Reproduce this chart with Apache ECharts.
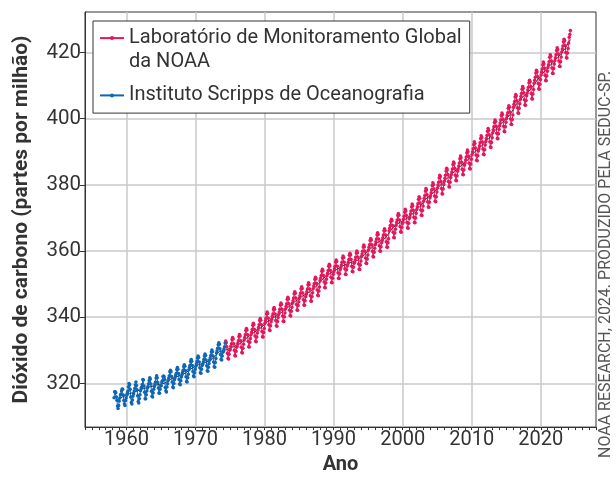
<!DOCTYPE html>
<html>
<head>
<meta charset="utf-8">
<script src="https://cdn.jsdelivr.net/npm/echarts@6/dist/echarts.min.js"></script>
<style>
  html, body { margin: 0; padding: 0; background: #fff; }
  #main { width: 616px; height: 480px; }
</style>
</head>
<body>
<div id="main"></div>
<script>
// médias mensais de CO2 (ppm), Instituto Scripps: mar/1958 .. abr/1974
const scrippsStart = 1958 + 2 / 12
const scrippsCO2 = [
  315.7, 317.5, 317.5, 317.2, 315.9, 314.9, 313.2, 312.4, 313.3, 314.7, // 1958
  315.6, 316.5, 316.7, 317.7, 318.3, 318.2, 316.5, 314.8, 313.8, 313.3, 314.8, 315.6, // 1959
  316.4, 317.0, 317.6, 319.0, 320.0, 319.6, 318.2, 315.9, 314.2, 313.8, 315.0, 316.2, // 1960
  316.9, 317.7, 318.5, 319.5, 320.4, 319.4, 318.1, 316.3, 314.5, 314.1, 315.4, 316.6, // 1961
  317.8, 318.6, 318.9, 319.7, 321.2, 321.0, 319.2, 317.3, 315.4, 315.4, 316.6, 317.7, // 1962
  318.6, 319.1, 319.9, 320.9, 321.7, 321.3, 319.8, 317.6, 316.1, 315.9, 317.1, 318.2, // 1963
  319.1, 319.8, 320.4, 321.6, 322.3, 321.7, 320.3, 318.6, 317.1, 317.0, 318.2, 319.3, // 1964
  319.3, 320.4, 320.8, 322.1, 322.2, 322.0, 321.2, 318.8, 317.8, 317.4, 318.9, 319.9, // 1965
  320.9, 321.6, 322.3, 323.5, 324.0, 323.5, 322.1, 320.4, 318.9, 318.7, 320.0, 321.1, // 1966
  321.7, 322.4, 323.0, 324.2, 324.8, 324.3, 323.0, 321.2, 319.8, 319.6, 320.8, 321.9, // 1967
  322.6, 323.3, 324.0, 325.1, 325.6, 325.2, 323.9, 322.0, 320.6, 320.4, 321.7, 322.8, // 1968
  324.1, 324.8, 325.5, 326.6, 327.2, 326.7, 325.4, 323.6, 322.2, 322.0, 323.2, 324.3, // 1969
  325.2, 325.9, 326.6, 327.7, 328.3, 327.8, 326.5, 324.7, 323.2, 323.1, 324.3, 325.4, // 1970
  325.8, 326.5, 327.2, 328.3, 328.9, 328.4, 327.1, 325.3, 323.8, 323.7, 324.9, 326.0, // 1971
  327.0, 327.7, 328.4, 329.5, 330.1, 329.6, 328.3, 326.5, 325.0, 324.9, 326.3, 327.5, // 1972
  329.2, 329.9, 330.6, 331.7, 332.3, 331.8, 330.5, 328.7, 327.2, 327.1, 328.3, 329.4, // 1973
  329.7, 330.4, 331.1, 332.2 // 1974
]

// médias mensais de CO2 (ppm), NOAA: mai/1974 .. abr/2024
const noaaStart = 1974 + 4 / 12
const noaaCO2 = [
  332.8, 332.3, 331.1, 329.1, 327.5, 327.4, 328.8, 330.0, // 1974
  330.4, 331.2, 332.0, 333.3, 333.9, 333.4, 332.0, 330.0, 328.4, 328.3, 329.7, 330.9, // 1975
  331.3, 332.1, 332.9, 334.2, 334.8, 334.3, 332.9, 330.9, 329.3, 329.2, 330.6, 331.8, // 1976
  333.1, 333.9, 334.7, 336.0, 336.6, 336.1, 334.7, 332.7, 331.1, 331.0, 332.4, 333.6, // 1977
  334.7, 335.5, 336.3, 337.6, 338.2, 337.7, 336.3, 334.3, 332.7, 332.6, 334.0, 335.2, // 1978
  336.1, 336.9, 337.7, 339.0, 339.6, 339.1, 337.7, 335.7, 334.1, 334.0, 335.4, 336.6, // 1979
  338.1, 338.9, 339.7, 341.0, 341.6, 341.1, 339.7, 337.7, 336.1, 336.0, 337.4, 338.6, // 1980
  339.4, 340.2, 341.0, 342.3, 342.9, 342.4, 341.0, 339.0, 337.4, 337.3, 338.7, 339.9, // 1981
  340.8, 341.6, 342.4, 343.7, 344.3, 343.8, 342.4, 340.4, 338.8, 338.7, 340.1, 341.3, // 1982
  342.5, 343.3, 344.1, 345.4, 346.0, 345.5, 344.1, 342.1, 340.5, 340.4, 341.8, 343.0, // 1983
  344.2, 345.0, 345.8, 347.1, 347.7, 347.2, 345.8, 343.8, 342.2, 342.1, 343.5, 344.7, // 1984
  345.7, 346.5, 347.3, 348.6, 349.2, 348.7, 347.3, 345.3, 343.7, 343.6, 345.0, 346.2, // 1985
  346.9, 347.7, 348.5, 349.8, 350.4, 349.9, 348.5, 346.5, 344.9, 344.8, 346.2, 347.4, // 1986
  348.6, 349.4, 350.2, 351.5, 352.1, 351.6, 350.2, 348.2, 346.6, 346.5, 347.9, 349.1, // 1987
  351.0, 351.8, 352.6, 353.9, 354.5, 354.0, 352.6, 350.6, 349.0, 348.9, 350.3, 351.5, // 1988
  352.5, 353.3, 354.1, 355.4, 356.0, 355.5, 354.1, 352.1, 350.5, 350.4, 351.8, 353.0, // 1989
  353.8, 354.6, 355.4, 356.7, 357.3, 356.8, 355.4, 353.4, 351.8, 351.7, 353.1, 354.3, // 1990
  355.0, 355.8, 356.6, 357.9, 358.5, 358.0, 356.6, 354.6, 353.0, 352.9, 354.3, 355.5, // 1991
  355.8, 356.6, 357.4, 358.7, 359.3, 358.8, 357.4, 355.4, 353.8, 353.7, 355.1, 356.3, // 1992
  356.5, 357.3, 358.1, 359.4, 360.0, 359.5, 358.1, 356.1, 354.5, 354.4, 355.8, 357.0, // 1993
  358.3, 359.1, 359.9, 361.2, 361.8, 361.3, 359.9, 357.9, 356.3, 356.2, 357.6, 358.8, // 1994
  360.3, 361.1, 361.9, 363.2, 363.8, 363.3, 361.9, 359.9, 358.3, 358.2, 359.6, 360.8, // 1995
  362.0, 362.8, 363.6, 364.9, 365.5, 365.0, 363.6, 361.6, 360.0, 359.9, 361.3, 362.5, // 1996
  363.2, 364.0, 364.8, 366.1, 366.7, 366.2, 364.8, 362.8, 361.2, 361.1, 362.5, 363.7, // 1997
  366.1, 366.9, 367.7, 369.0, 369.6, 369.1, 367.7, 365.7, 364.1, 364.0, 365.4, 366.6, // 1998
  367.8, 368.6, 369.4, 370.7, 371.3, 370.8, 369.4, 367.4, 365.8, 365.7, 367.1, 368.3, // 1999
  368.7, 369.6, 370.5, 371.8, 372.6, 372.1, 370.7, 368.6, 367.0, 366.9, 368.4, 369.8, // 2000
  370.3, 371.2, 372.1, 373.4, 374.2, 373.7, 372.3, 370.2, 368.6, 368.5, 370.0, 371.4, // 2001
  372.5, 373.4, 374.3, 375.6, 376.4, 375.9, 374.5, 372.4, 370.8, 370.7, 372.2, 373.6, // 2002
  375.0, 375.9, 376.8, 378.1, 378.9, 378.4, 377.0, 374.9, 373.3, 373.2, 374.7, 376.1, // 2003
  376.7, 377.6, 378.5, 379.8, 380.6, 380.1, 378.7, 376.6, 375.0, 374.9, 376.4, 377.8, // 2004
  379.0, 379.9, 380.8, 382.1, 382.9, 382.4, 381.0, 378.9, 377.3, 377.2, 378.7, 380.1, // 2005
  381.1, 382.0, 382.9, 384.2, 385.0, 384.5, 383.1, 381.0, 379.4, 379.3, 380.8, 382.2, // 2006
  383.0, 383.9, 384.8, 386.1, 386.9, 386.4, 385.0, 382.9, 381.3, 381.2, 382.7, 384.1, // 2007
  384.8, 385.7, 386.6, 387.9, 388.7, 388.2, 386.8, 384.7, 383.1, 383.0, 384.5, 385.9, // 2008
  386.6, 387.5, 388.4, 389.7, 390.5, 390.0, 388.6, 386.5, 384.9, 384.8, 386.3, 387.7, // 2009
  389.1, 390.0, 390.9, 392.2, 393.0, 392.5, 391.1, 389.0, 387.4, 387.3, 388.8, 390.2, // 2010
  390.9, 391.8, 392.7, 394.0, 394.8, 394.3, 392.9, 390.8, 389.2, 389.1, 390.6, 392.0, // 2011
  393.1, 394.0, 394.9, 396.2, 397.0, 396.5, 395.1, 393.0, 391.4, 391.3, 392.8, 394.2, // 2012
  395.7, 396.6, 397.5, 398.8, 399.6, 399.1, 397.7, 395.6, 394.0, 393.9, 395.4, 396.8, // 2013
  397.8, 398.7, 399.6, 400.9, 401.7, 401.2, 399.8, 397.7, 396.1, 396.0, 397.5, 398.9, // 2014
  400.0, 400.9, 401.8, 403.1, 403.9, 403.4, 402.0, 399.9, 398.3, 398.2, 399.7, 401.1, // 2015
  403.4, 404.3, 405.2, 406.5, 407.3, 406.8, 405.4, 403.3, 401.7, 401.6, 403.1, 404.5, // 2016
  405.8, 406.7, 407.6, 408.9, 409.7, 409.2, 407.8, 405.7, 404.1, 404.0, 405.5, 406.9, // 2017
  407.7, 408.6, 409.5, 410.8, 411.6, 411.1, 409.7, 407.6, 406.0, 405.9, 407.4, 408.8, // 2018
  410.7, 411.6, 412.5, 413.8, 414.6, 414.1, 412.7, 410.6, 409.0, 408.9, 410.4, 411.8, // 2019
  413.2, 414.1, 415.0, 416.3, 417.1, 416.6, 415.2, 413.1, 411.5, 411.4, 412.9, 414.3, // 2020
  415.4, 416.3, 417.2, 418.5, 419.3, 418.8, 417.4, 415.3, 413.7, 413.6, 415.1, 416.5, // 2021
  417.5, 418.4, 419.3, 420.6, 421.4, 420.9, 419.5, 417.4, 415.8, 415.7, 417.2, 418.6, // 2022
  420.1, 421.0, 421.9, 423.2, 424.0, 423.5, 422.1, 420.0, 418.4, 418.3, 419.8, 421.2, // 2023
  422.8, 424.6, 425.4, 426.6 // 2024
]

// tendência (média anual, ppm) 1958 .. 2024
const trendFirstYear = 1958
const trendCO2 = [
  315.0, 315.98, 316.91, 317.64, 318.45, 318.99, 319.62, 320.04, 321.37, 322.18,
  323.05, 324.62, 325.68, 326.32, 327.46, 329.68, 330.19, 331.12, 332.03, 333.84,
  335.41, 336.84, 338.76, 340.12, 341.48, 343.15, 344.85, 346.35, 347.61, 349.31,
  351.69, 353.20, 354.45, 355.70, 356.54, 357.21, 358.96, 360.97, 362.74, 363.88,
  366.84, 368.54, 369.71, 371.32, 373.45, 375.98, 377.70, 379.98, 382.09, 384.02,
  385.83, 387.64, 390.10, 391.85, 394.06, 396.74, 398.81, 401.01, 404.41, 406.76,
  408.72, 411.65, 414.21, 416.41, 418.53, 421.08, 423.9
]

const xTicks = [1960, 1970, 1980, 1990, 2000, 2010, 2020]
const yTicks = [320, 340, 360, 380, 400, 420]

const noaaName = 'Laboratório de Monitoramento Global\nda NOAA'
const scrippsName = 'Instituto Scripps de Oceanografia'

const pink = '#e3175b'
const blue = '#0f66b4'
const font = 'Roboto, "Noto Sans", sans-serif'

function monthly(start, values) {
  return values.map((v, i) => [start + (i + 0.5) / 12, v])
}
const trendPts = trendCO2.map((v, i) => {
  const x = Math.min(Math.max(trendFirstYear + i + 0.5, 1958.2), 2024.3)
  return [x, v]
})

const myChart = echarts.init(document.getElementById('main'), null, { renderer: 'canvas' })

const option = {
  animation: false,
  backgroundColor: '#fff',
  textStyle: { fontFamily: font },
  grid: {
    left: 85,
    right: 20,
    top: 12,
    bottom: 50,
    show: true,
    borderColor: '#333',
    borderWidth: 1,
    backgroundColor: 'transparent',
  },
  legend: {
    orient: 'vertical',
    left: 93,
    top: 21,
    padding: [-18, 8, 6, 6],
    itemWidth: 24,
    itemHeight: 5,
    itemGap: 10.5,
    backgroundColor: '#fff',
    borderColor: '#333',
    borderWidth: 1,
    borderRadius: 0,
    textStyle: { fontFamily: font, fontSize: 20, color: '#333', lineHeight: 23.4 },
    // linha vazia no início para o ícone ficar na primeira linha do texto
    formatter: (name) => (name === noaaName ? '\n' + name : name),
    data: [noaaName, scrippsName],
  },
  xAxis: [
    {
      type: 'value',
      min: 1954,
      max: 2028,
      name: 'Ano',
      nameLocation: 'middle',
      nameGap: 27,
      nameTextStyle: { fontFamily: font, fontSize: 20, fontWeight: 'bold', color: '#333' },
      axisLine: { lineStyle: { color: '#333', width: 1 } },
      axisTick: { show: false, customValues: xTicks },
      axisLabel: {
        customValues: xTicks,
        formatter: (v) => String(v),
        fontFamily: font,
        fontSize: 20,
        color: '#333',
        margin: 3,
      },
      splitLine: { show: true, lineStyle: { color: '#c8c8c8', width: 1.5 } },
    },
    {
      // marcas anuais
      type: 'value',
      min: 1954,
      max: 2028,
      interval: 1,
      position: 'bottom',
      axisLine: { show: false },
      axisTick: { length: 3, lineStyle: { color: '#333' } },
      axisLabel: { show: false },
      splitLine: { show: false },
    },
  ],
  yAxis: {
    type: 'value',
    min: 306.8,
    max: 432.2,
    name: 'Dióxido de carbono (partes por milhão)',
    nameLocation: 'middle',
    nameGap: 53,
    nameTextStyle: { fontFamily: font, fontSize: 21, fontWeight: 'bold', color: '#333' },
    axisLine: { show: true, lineStyle: { color: '#333', width: 1 } },
    axisTick: { show: true, length: 5, customValues: yTicks, lineStyle: { color: '#333' } },
    axisLabel: { customValues: yTicks, fontFamily: font, fontSize: 20.5, color: '#333', margin: 4 },
    splitLine: { show: true, lineStyle: { color: '#c8c8c8', width: 1.5 } },
  },
  series: [
    {
      name: noaaName,
      type: 'line',
      data: monthly(noaaStart, noaaCO2),
      color: pink,
      symbol: 'circle',
      symbolSize: 3.5,
      showAllSymbol: true,
      lineStyle: { width: 1 },
    },
    {
      name: scrippsName,
      type: 'line',
      data: monthly(scrippsStart, scrippsCO2),
      color: blue,
      symbol: 'circle',
      symbolSize: 3.5,
      showAllSymbol: true,
      lineStyle: { width: 1 },
    },
    {
      name: 'tendência',
      type: 'line',
      data: trendPts,
      color: '#333',
      symbol: 'none',
      lineStyle: { width: 1 },
      z: 3,
    },
  ],
  graphic: [
    {
      type: 'text',
      x: 598,
      y: 458,
      rotation: Math.PI / 2,
      style: {
        text: 'NOAA RESEARCH, 2024. PRODUZIDO PELA SEDUC-SP.',
        fontFamily: font,
        fontSize: 16,
        fill: '#555',
        textVerticalAlign: 'top',
      },
    },
  ],
}

myChart.setOption(option)
</script>
</body>
</html>
